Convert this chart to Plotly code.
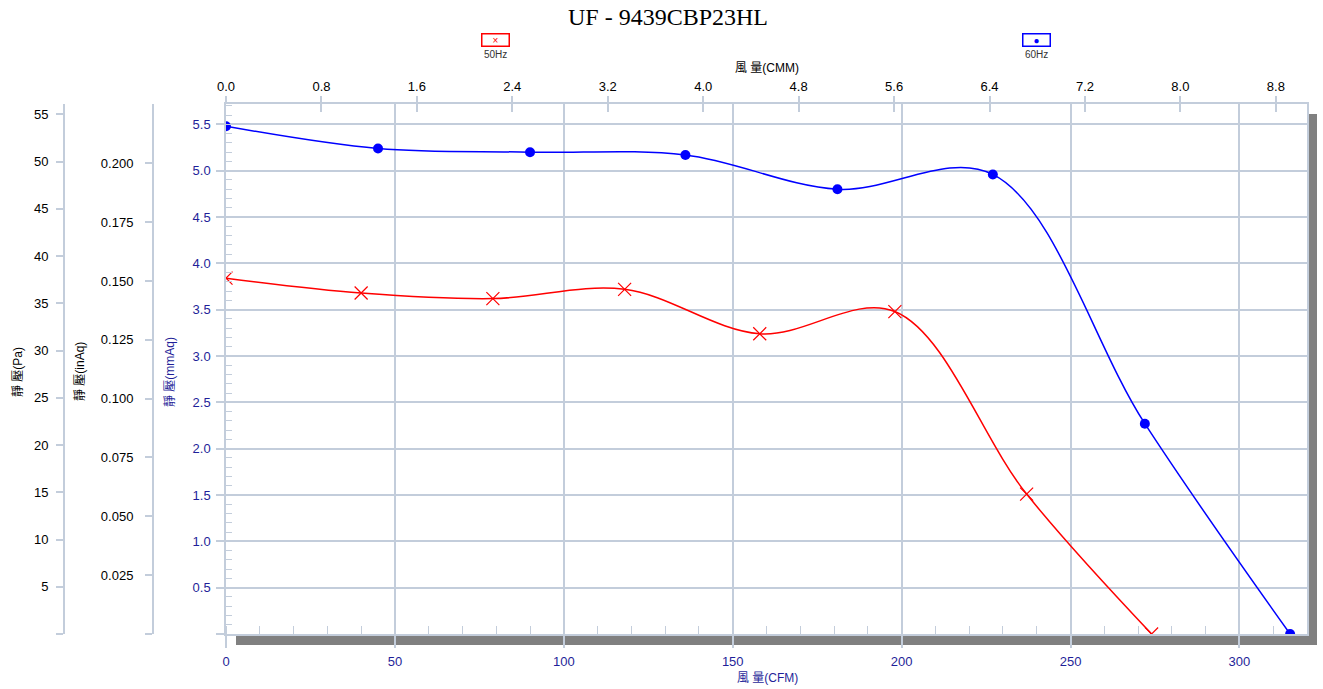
import plotly.graph_objects as go

# ---------------- data ----------------
title_text = "UF - 9439CBP23HL"
series_names = ["50Hz", "60Hz"]

cfm_50 = [0, 40, 79, 118, 158, 198, 237, 274]
mmaq_50 = [3.84, 3.68, 3.62, 3.72, 3.24, 3.48, 1.51, 0.0]

cfm_60 = [0, 45, 90, 136, 181, 227, 272, 315]
mmaq_60 = [5.48, 5.24, 5.20, 5.17, 4.80, 4.96, 2.27, 0.0]

cfm_ticks = [0, 50, 100, 150, 200, 250, 300]
cmm_ticks = [0.0, 0.8, 1.6, 2.4, 3.2, 4.0, 4.8, 5.6, 6.4, 7.2, 8.0, 8.8]
mmaq_ticks = [0, 0.5, 1.0, 1.5, 2.0, 2.5, 3.0, 3.5, 4.0, 4.5, 5.0, 5.5]
inaq_ticks = [0, 0.025, 0.05, 0.075, 0.1, 0.125, 0.15, 0.175, 0.2]
pa_ticks = [0, 5, 10, 15, 20, 25, 30, 35, 40, 45, 50, 55]

CFM_MAX = 320
MMAQ_MAX = 5.72
CMM_PER_CFM = 0.0283168
PA_PER_MMAQ = 9.80665
MMAQ_PER_INAQ = 25.4

# ---------------- style ----------------
W, H = 1323, 689
ML, MR, MT, MB = 0, 16, 104, 55
PW = W - ML - MR
PH = H - MT - MB
X0 = 226  # left edge of plot area in px
GRID = "#c3cddb"
NAVY = "#1f1f99"
SANS = "Liberation Sans, Arial, Noto Sans CJK TC, sans-serif"
CJK = "Liberation Sans, Noto Sans CJK TC, sans-serif"


def px(xp):
    return xp / PW


def py(yp):
    return (H - MB - yp) / PH


fig = go.Figure()

fig.add_trace(go.Scatter(
    x=cfm_50, y=mmaq_50, name=series_names[0], mode="lines+markers",
    line=dict(color="#ff0000", width=1.5, shape="spline", smoothing=1.0),
    marker=dict(symbol="x-thin", size=13, color="#ff0000",
                line=dict(color="#ff0000", width=1.2)),
    xaxis="x", yaxis="y"))

fig.add_trace(go.Scatter(
    x=cfm_60, y=mmaq_60, name=series_names[1], mode="lines+markers",
    line=dict(color="#0000ff", width=1.5, shape="spline", smoothing=1.0),
    marker=dict(symbol="circle", size=10, color="#0000ff"),
    xaxis="x", yaxis="y"))

# placeholder traces so the secondary axes are drawn
fig.add_trace(go.Scatter(x=[None], y=[None], xaxis="x2", yaxis="y2", showlegend=False, hoverinfo="skip"))
fig.add_trace(go.Scatter(x=[None], y=[None], xaxis="x3", yaxis="y3", showlegend=False, hoverinfo="skip"))

xd0 = px(X0)

fig.update_layout(
    width=W, height=H,
    margin=dict(l=ML, r=MR, t=MT, b=MB, autoexpand=False),
    paper_bgcolor="white", plot_bgcolor="white",
    showlegend=False,
    title=dict(text=title_text, x=668 / PW, xref="paper", xanchor="center",
               y=1 - 17 / H, yref="container", yanchor="middle",
               font=dict(family="Liberation Serif, Times New Roman, serif", size=24, color="black")),
    xaxis=dict(
        domain=[xd0, 1], range=[0, CFM_MAX], tickmode="array", tickvals=cfm_ticks,
        ticktext=[str(v) for v in cfm_ticks],
        showgrid=True, gridcolor=GRID, gridwidth=1.5,
        showline=True, linecolor=GRID, linewidth=1.5, mirror=True,
        ticks="outside", ticklen=12, tickcolor=GRID, tickwidth=1.5,
        ticklabelstandoff=3,
        tickfont=dict(family=SANS, size=13, color=NAVY),
        minor=dict(tickmode="linear", tick0=0, dtick=10, ticks="inside", ticklen=8,
                   tickcolor=GRID, tickwidth=1.2, showgrid=False),
        zeroline=False, anchor="y", fixedrange=True),
    xaxis2=dict(
        overlaying="x", side="top", anchor="y", range=[0, CFM_MAX * CMM_PER_CFM],
        tickmode="array", tickvals=cmm_ticks, ticktext=[f"{v:.1f}" for v in cmm_ticks],
        showgrid=False, showline=False, zeroline=False,
        ticks="inside", ticklen=8, tickcolor=GRID, tickwidth=1.5,
        ticklabelstandoff=9,
        tickfont=dict(family=SANS, size=13, color="black")),
    xaxis3=dict(
        overlaying="x", side="top", anchor="y", range=[0, CFM_MAX * CMM_PER_CFM],
        tickmode="array", tickvals=cmm_ticks, showticklabels=False,
        showgrid=False, showline=False, zeroline=False,
        ticks="outside", ticklen=7, tickcolor=GRID, tickwidth=1.5),
    yaxis=dict(
        range=[0, MMAQ_MAX], tickmode="array", tickvals=mmaq_ticks,
        ticktext=["" if v == 0 else f"{v:.1f}" for v in mmaq_ticks],
        showgrid=True, gridcolor=GRID, gridwidth=1.5,
        showline=True, linecolor=GRID, linewidth=1.5, mirror=True,
        ticks="outside", ticklen=8, tickcolor=GRID, tickwidth=1.5,
        ticklabelstandoff=3,
        tickfont=dict(family=SANS, size=13, color=NAVY),
        minor=dict(tickmode="linear", tick0=0, dtick=0.1, ticks="inside", ticklen=6,
                   tickcolor=GRID, tickwidth=1.2, showgrid=False),
        zeroline=False, anchor="x"),
    yaxis2=dict(
        overlaying="y", anchor="free", position=px(153), side="left",
        range=[0, MMAQ_MAX / MMAQ_PER_INAQ], tickmode="array", tickvals=inaq_ticks,
        ticktext=["" if v == 0 else f"{v:.3f}" for v in inaq_ticks],
        showgrid=False, zeroline=False,
        showline=True, linecolor=GRID, linewidth=2,
        ticks="outside", ticklen=7, tickcolor=GRID, tickwidth=1.5,
        ticklabelstandoff=9,
        tickfont=dict(family=SANS, size=13, color="black")),
    yaxis3=dict(
        overlaying="y", anchor="free", position=px(64), side="left",
        range=[0, MMAQ_MAX * PA_PER_MMAQ], tickmode="array", tickvals=pa_ticks,
        ticktext=["" if v == 0 else str(v) for v in pa_ticks],
        showgrid=False, zeroline=False,
        showline=True, linecolor=GRID, linewidth=2,
        ticks="outside", ticklen=7, tickcolor=GRID, tickwidth=1.5,
        ticklabelstandoff=5,
        tickfont=dict(family=SANS, size=13, color="black")),
)

# drop shadow of the plot frame
fig.add_shape(type="rect", xref="paper", yref="paper", layer="below",
              x0=px(236), x1=px(1317), y0=py(645), y1=py(635.5),
              fillcolor="#808080", line=dict(width=0))
fig.add_shape(type="rect", xref="paper", yref="paper", layer="below",
              x0=px(1308), x1=px(1317), y0=py(645), y1=py(114),
              fillcolor="#808080", line=dict(width=0))


def note(text, xp, yp, **kw):
    d = dict(text=text, x=px(xp), y=py(yp), xref="paper", yref="paper",
             xanchor="center", yanchor="middle", showarrow=False)
    d.update(kw)
    return d


# axis titles
ann = [
    note("風 量(CMM)", 767, 68, font=dict(family=CJK, size=12, color="black")),
    note("風 量(CFM)", 767, 678, font=dict(family=CJK, size=12, color=NAVY)),
]
for label, xp, col in [("靜 壓(Pa)", 18, "black"), ("靜 壓(inAq)", 80, "black"), ("靜 壓(mmAq)", 170, NAVY)]:
    ann.append(note(label, xp, 372, textangle=-90, font=dict(family=CJK, size=12, color=col)))

# legend boxes
for name, sym, col, xp in [(series_names[0], "×", "#ff0000", 496), (series_names[1], "●", "#0000ff", 1036)]:
    ann.append(note(sym, xp, 40, font=dict(family=SANS, size=10, color=col), bordercolor=col,
                    borderwidth=1.5, borderpad=0, width=26, height=11, bgcolor="white"))
    ann.append(note(name, xp, 54, font=dict(family=SANS, size=10, color="#333333")))
fig.update_layout(annotations=ann)

fig.write_html("out.html", config={"displayModeBar": False},
               post_script="document.body.style.margin='0';")
